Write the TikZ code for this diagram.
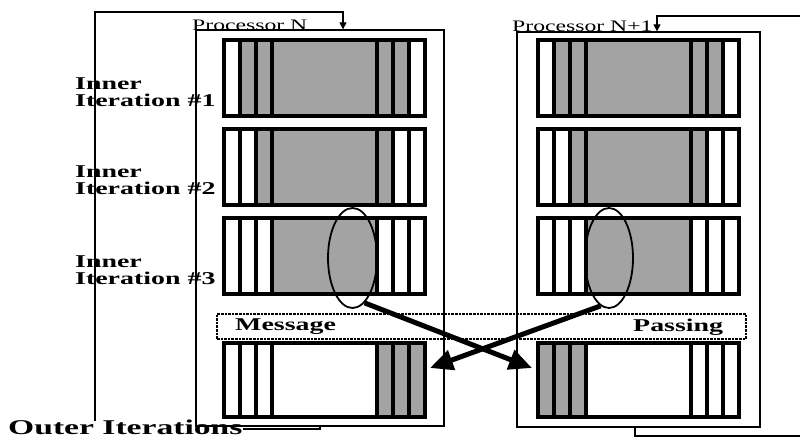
\documentclass[tikz,border=0pt]{standalone}
\usepackage{fontspec}
\setmainfont{Liberation Serif}
\usetikzlibrary{arrows.meta,shapes.geometric}
\definecolor{halft}{gray}{0.64}
\newcommand\hs[1]{\scalebox{1.55}[1]{#1}}
\newcommand\rowcells[4]{%
  \foreach \c [count=\i from 0] in {#4} {
    \pgfmathsetmacro\xa{{#1}[\i]}
    \pgfmathsetmacro\xb{{#1}[\i+1]}
    \draw[cell, fill=\c] (\xa,#2) rectangle (\xb,#3);
  }%
}
\begin{document}
\begin{tikzpicture}[x=1pt,y=-1pt,
  procbox/.style={draw, line width=1.3pt, inner sep=0pt, rectangle},
  loopline/.style={line width=1.1pt},
  looparrow/.style={line width=1.1pt, -{Triangle[length=7pt,width=7pt]}},
  cell/.style={draw, line width=3.6pt, line join=miter},
  lbl/.style={inner sep=0pt, anchor=base west, font=\fontsize{18}{17}\selectfont\bfseries},
  ptitle/.style={inner sep=0pt, anchor=base west, font=\fontsize{16}{18}\selectfont},
  ring/.style={draw, ellipse, line width=1.8pt, minimum width=49pt, minimum height=100pt, inner sep=0pt},
  pass/.style={line width=5pt, -{Triangle[length=23pt,width=20pt]}},
  msgbox/.style={draw, densely dotted, line width=2.6pt, inner sep=0pt, rectangle}
]
\useasboundingbox (0,0) rectangle (800,439);

% processor boxes
\node[procbox, minimum width=248pt, minimum height=396pt] (pN) at (320,228) {};
\node[procbox, minimum width=243pt, minimum height=395pt] (pM) at (638.5,229.5) {};

% striped blocks, processor N
\rowcells{224,240,256,272,377,393,409,425}{40}{116}{white,halft,halft,halft,halft,halft,white}
\rowcells{224,240,256,272,377,393,409,425}{129}{205}{white,white,halft,halft,halft,white,white}
\rowcells{224,240,256,272,377,393,409,425}{218}{294}{white,white,white,halft,white,white,white}
\rowcells{224,240,256,272,377,393,409,425}{343}{417}{white,white,white,white,halft,halft,halft}
% striped blocks, processor N+1
\rowcells{538,554,570,586,691,707,723,739}{40}{116}{white,halft,halft,halft,halft,halft,white}
\rowcells{538,554,570,586,691,707,723,739}{129}{205}{white,white,halft,halft,halft,white,white}
\rowcells{538,554,570,586,691,707,723,739}{218}{294}{white,white,white,halft,white,white,white}
\rowcells{538,554,570,586,691,707,723,739}{343}{417}{halft,halft,halft,white,white,white,white}

% ellipses
\node[ring] (eN) at (352.5,258) {};
\node[ring, minimum width=48pt] (eM) at (609,258) {};

% message passing band
\node[msgbox, minimum width=529pt, minimum height=25pt] (mp) at (481.5,326.5) {};
\node[lbl] (msg) at (235,330) {\hs{Message}};
\node[lbl] (pas) at (633,331) {\hs{Passing}};

% titles
\node[ptitle] (tN) at (192,30) {\scalebox{1.48}[1]{Processor N}};
\node[ptitle] (tM) at (512,31) {\scalebox{1.48}[1]{Processor N+1}};

% inner iteration labels
\node[lbl] (i1) at (75,89.3) {\hs{\begin{tabular}[t]{@{}l@{}}Inner\\Iteration \#1\end{tabular}}};
\node[lbl] (i2) at (75,177) {\hs{\begin{tabular}[t]{@{}l@{}}Inner\\Iteration \#2\end{tabular}}};
\node[lbl] (i3) at (75,267) {\hs{\begin{tabular}[t]{@{}l@{}}Inner\\Iteration \#3\end{tabular}}};

% outer iterations
\node[inner sep=0pt, anchor=base west, font=\fontsize{21}{24}\selectfont\bfseries] (oi) at (8,434) {\scalebox{1.6}[1]{Outer Iterations}};

% left loop
\coordinate (lb) at (95,421);
\coordinate (lt) at (95,12);
\coordinate (ltr) at (343,12);
\coordinate (lc) at (320,429);
\draw[looparrow] (lb) -- (lt) -- (ltr) -- (ltr |- pN.north);
\draw[loopline] (oi.east |- lc) -- (lc) -- (lc |- pN.south);

% right loop
\coordinate (rt) at (800,16);
\coordinate (rtl) at (657,16);
\coordinate (rb) at (800,436);
\coordinate (rbl) at (635,436);
\draw[looparrow] (rt) -- (rtl) -- (rtl |- pM.north);
\draw[loopline] (rb) -- (rbl) -- (rbl |- pM.south);

% passing arrows
\coordinate (tipN) at (532,368);
\coordinate (tipM) at (430,368);
\draw[pass] (eN.-75) -- (tipN);
\draw[pass] (eM.-100) -- (tipM);
\end{tikzpicture}
\end{document}
